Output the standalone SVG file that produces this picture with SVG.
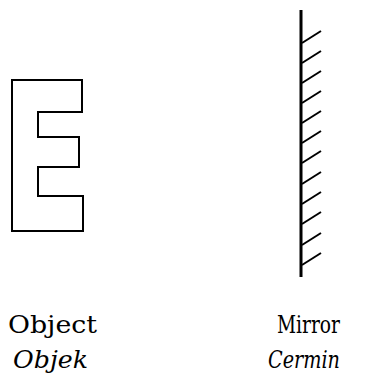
<svg xmlns="http://www.w3.org/2000/svg" width="375" height="373" viewBox="0 0 375 373">
<style>
.lbl{font-family:"DejaVu Serif","Liberation Serif",serif;font-size:24px;fill:#000}
.it{font-style:italic}
.hatch{stroke:#000;stroke-width:2;fill:none}
</style>
<rect width="375" height="373" fill="#fff"/>
<g id="object">
<path d="M12,80 H82 V112 H38 V137 H79 V167 H38 V196 H83 V231 H12 Z" fill="none" stroke="#000" stroke-width="2"/>
<text class="lbl" x="8" y="333" textLength="89" lengthAdjust="spacingAndGlyphs">Object</text>
<text class="lbl it" x="13" y="368" textLength="75" lengthAdjust="spacingAndGlyphs">Objek</text>
</g>
<g id="mirror">
<line x1="301" y1="10" x2="301" y2="277" stroke="#000" stroke-width="3"/>
<g class="hatch">
<line x1="302" y1="43" x2="321" y2="31"/>
<line x1="302" y1="63" x2="321" y2="51"/>
<line x1="302" y1="83" x2="321" y2="71"/>
<line x1="302" y1="103" x2="321" y2="91"/>
<line x1="302" y1="123" x2="321" y2="111"/>
<line x1="302" y1="143" x2="321" y2="131"/>
<line x1="302" y1="163" x2="321" y2="151"/>
<line x1="302" y1="184" x2="321" y2="172"/>
<line x1="302" y1="204" x2="321" y2="192"/>
<line x1="302" y1="224" x2="321" y2="212"/>
<line x1="302" y1="245" x2="321" y2="233"/>
<line x1="302" y1="265" x2="321" y2="253"/>
</g>
<text class="lbl" x="277" y="333" textLength="63" lengthAdjust="spacingAndGlyphs">Mirror</text>
<text class="lbl it" x="268" y="368" textLength="72" lengthAdjust="spacingAndGlyphs">Cermin</text>
</g>
</svg>
